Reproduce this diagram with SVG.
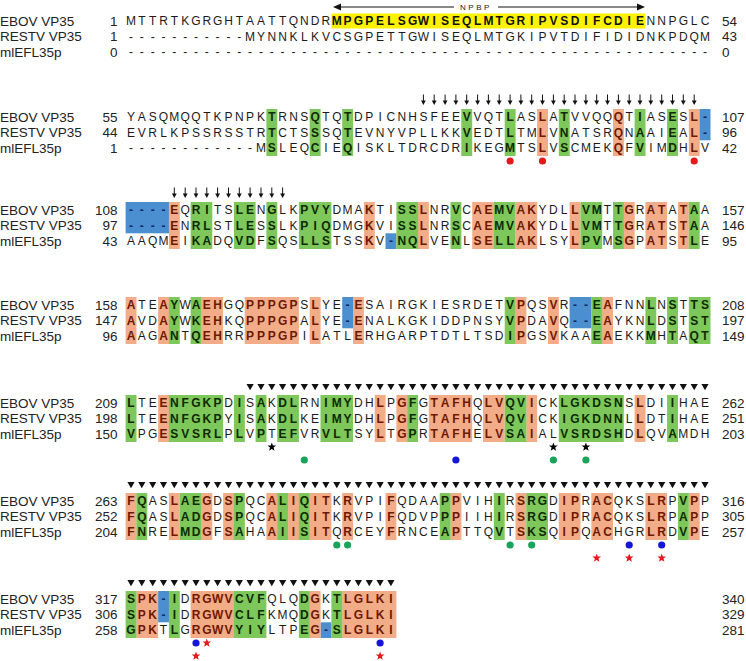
<svg xmlns="http://www.w3.org/2000/svg" width="746" height="661" viewBox="0 0 746 661">
<style>
.q{font-family:'Liberation Sans Narrow','Liberation Sans',Arial,sans-serif;font-size:12px;fill:#1a1a1a;text-anchor:middle}
.g{font-weight:bold;fill:#0e2a00}
.s{font-weight:bold;fill:#6e1800}
.b{font-weight:bold;fill:#0b2a66}
.y{font-weight:bold;fill:#111}
.lab{font-family:'Liberation Sans',Arial,sans-serif;font-size:13.5px;fill:#222}
.n{font-family:'Liberation Sans',Arial,sans-serif;font-size:13.5px;fill:#222;text-anchor:end}
.e{font-family:'Liberation Sans',Arial,sans-serif;font-size:13.5px;fill:#222}
.rs{fill:#F2AD88}.rg{fill:#7DC75B}.rb{fill:#4C8FD0}.ry{fill:#FFF200}
.red{fill:#E3191B}.grn{fill:#1BA35B}.blu{fill:#1515D9}.blk{fill:#000}
</style>
<defs>
<g id="da"><line x1="0" y1="-5.5" x2="0" y2="1.5" stroke="#111" stroke-width="1"/><polygon points="-2.4,0.5 2.4,0.5 0,5" fill="#111"/></g>
<polygon id="tri" points="-3.6,-3 3.6,-3 0,3.2" fill="#111"/>
<polygon id="star" points="0,-4.6 1.12,-1.54 4.38,-1.42 1.81,0.59 2.7,3.72 0,1.9 -2.7,3.72 -1.81,0.59 -4.38,-1.42 -1.12,-1.54"/>
<circle id="dot" r="3.6"/>
</defs>
<rect width="746" height="661" fill="#fff"/>

<g id="block1" transform="translate(0,-1)">
<rect class="ry" x="331.4" y="14.5" width="314.1" height="15"/>
<g id="npbp">
<line x1="339" y1="8" x2="639" y2="8" stroke="#111" stroke-width="1"/>
<polygon points="333,8 341,4.5 341,11.5" fill="#111"/>
<polygon points="645,8 637,4.5 637,11.5" fill="#111"/>
<rect x="454" y="3" width="44" height="10" fill="#fff"/>
<text x="476" y="11" font-family="'Liberation Sans',Arial,sans-serif" font-size="8" letter-spacing="2.5" text-anchor="middle" fill="#222">NPBP</text>
</g>
<text class="lab" x="0" y="26.8">EBOV VP35</text>
<text class="lab" x="0" y="42.3">RESTV VP35</text>
<text class="lab" x="0" y="57.8">mlEFL35p</text>
<text class="n" x="117.5" y="26.8">1</text>
<text class="n" x="117.5" y="42.3">1</text>
<text class="n" x="117.5" y="57.8">0</text>
<text class="e" x="722" y="26.8">54</text>
<text class="e" x="722" y="42.3">43</text>
<text class="e" x="722" y="57.8">0</text>
<text class="q" y="26.3" x="131 141.8 152.7 163.5 174.3 185.2 196 206.8 217.6 228.5 239.3 250.1 261 271.8 282.6 293.5 304.3 315.1 325.9 336.8 347.6 358.4 369.3 380.1 390.9 401.8 412.6 423.4 434.2 445.1 455.9 466.7 477.6 488.4 499.2 510.1 520.9 531.7 542.5 553.4 564.2 575 585.9 596.7 607.5 618.4 629.2 640 650.8 661.7 672.5 683.3 694.2 705">MTTRTKGRGHTAATTQNDR<tspan class="y">MPGPELSGWISEQLMTGRIPVSDIFCDIE</tspan>NNPGLC</text>
<text class="q" y="41.8" x="131 141.8 152.7 163.5 174.3 185.2 196 206.8 217.6 228.5 239.3 250.1 261 271.8 282.6 293.5 304.3 315.1 325.9 336.8 347.6 358.4 369.3 380.1 390.9 401.8 412.6 423.4 434.2 445.1 455.9 466.7 477.6 488.4 499.2 510.1 520.9 531.7 542.5 553.4 564.2 575 585.9 596.7 607.5 618.4 629.2 640 650.8 661.7 672.5 683.3 694.2 705">-----------MYNNKLKVCSGPETTGWISEQLMTGKIPVTDIFIDIDNKPDQM</text>
<text class="q" y="57.3" x="131 141.8 152.7 163.5 174.3 185.2 196 206.8 217.6 228.5 239.3 250.1 261 271.8 282.6 293.5 304.3 315.1 325.9 336.8 347.6 358.4 369.3 380.1 390.9 401.8 412.6 423.4 434.2 445.1 455.9 466.7 477.6 488.4 499.2 510.1 520.9 531.7 542.5 553.4 564.2 575 585.9 596.7 607.5 618.4 629.2 640 650.8 661.7 672.5 683.3 694.2 705">------------------------------------------------------</text>
</g>

<g id="block2" transform="translate(0,-1)">
<g>
<rect class="rg" x="266.4" y="110" width="10.9" height="47"/>
<rect class="rg" x="309.7" y="110" width="10.9" height="47"/>
<rect class="rg" x="342.2" y="110" width="10.9" height="47"/>
<rect class="rg" x="461.3" y="110" width="10.9" height="47"/>
<rect class="rg" x="504.7" y="110" width="10.9" height="47"/>
<rect class="rg" x="558.8" y="110" width="10.9" height="47"/>
<rect class="rg" x="634.6" y="110" width="10.9" height="47"/>
<rect class="rg" x="667.1" y="110" width="10.9" height="47"/>
<rect class="rs" x="537.1" y="110" width="10.9" height="47"/>
<rect class="rs" x="613" y="110" width="10.9" height="47"/>
<rect class="rs" x="688.8" y="110" width="10.9" height="47"/>
<rect class="rb" x="699.6" y="110" width="10.9" height="31.3"/>
</g>
<text class="lab" x="0" y="122.8">EBOV VP35</text>
<text class="lab" x="0" y="138.3">RESTV VP35</text>
<text class="lab" x="0" y="153.8">mlEFL35p</text>
<text class="n" x="117.5" y="122.8">55</text>
<text class="n" x="117.5" y="138.3">44</text>
<text class="n" x="117.5" y="153.8">1</text>
<text class="e" x="722" y="122.8">107</text>
<text class="e" x="722" y="138.3">96</text>
<text class="e" x="722" y="153.8">42</text>
<text class="q" y="122.3" x="131 141.8 152.7 163.5 174.3 185.2 196 206.8 217.6 228.5 239.3 250.1 261 271.8 282.6 293.5 304.3 315.1 325.9 336.8 347.6 358.4 369.3 380.1 390.9 401.8 412.6 423.4 434.2 445.1 455.9 466.7 477.6 488.4 499.2 510.1 520.9 531.7 542.5 553.4 564.2 575 585.9 596.7 607.5 618.4 629.2 640 650.8 661.7 672.5 683.3 694.2 705">YASQMQQTKPNPK<tspan class="g">T</tspan>RNS<tspan class="g">Q</tspan>TQ<tspan class="g">T</tspan>DPICNHSFEE<tspan class="g">V</tspan>VQT<tspan class="g">L</tspan>AS<tspan class="s">L</tspan>A<tspan class="g">T</tspan>VVQQ<tspan class="s">Q</tspan>T<tspan class="g">I</tspan>AS<tspan class="g">E</tspan>S<tspan class="s">L</tspan><tspan class="b">-</tspan></text>
<text class="q" y="137.8" x="131 141.8 152.7 163.5 174.3 185.2 196 206.8 217.6 228.5 239.3 250.1 261 271.8 282.6 293.5 304.3 315.1 325.9 336.8 347.6 358.4 369.3 380.1 390.9 401.8 412.6 423.4 434.2 445.1 455.9 466.7 477.6 488.4 499.2 510.1 520.9 531.7 542.5 553.4 564.2 575 585.9 596.7 607.5 618.4 629.2 640 650.8 661.7 672.5 683.3 694.2 705">EVRLKPSSRSSTR<tspan class="g">T</tspan>CTS<tspan class="g">S</tspan>SQ<tspan class="g">T</tspan>EVNYVPLLKK<tspan class="g">V</tspan>EDT<tspan class="g">L</tspan>TM<tspan class="s">L</tspan>V<tspan class="g">N</tspan>ATSR<tspan class="s">Q</tspan>N<tspan class="g">A</tspan>AI<tspan class="g">E</tspan>A<tspan class="s">L</tspan><tspan class="b">-</tspan></text>
<text class="q" y="153.3" x="131 141.8 152.7 163.5 174.3 185.2 196 206.8 217.6 228.5 239.3 250.1 261 271.8 282.6 293.5 304.3 315.1 325.9 336.8 347.6 358.4 369.3 380.1 390.9 401.8 412.6 423.4 434.2 445.1 455.9 466.7 477.6 488.4 499.2 510.1 520.9 531.7 542.5 553.4 564.2 575 585.9 596.7 607.5 618.4 629.2 640 650.8 661.7 672.5 683.3 694.2 705">------------M<tspan class="g">S</tspan>LEQ<tspan class="g">C</tspan>IE<tspan class="g">Q</tspan>ISKLTDRCDR<tspan class="g">I</tspan>KEG<tspan class="g">M</tspan>TS<tspan class="s">L</tspan>V<tspan class="g">S</tspan>CMEK<tspan class="s">Q</tspan>F<tspan class="g">V</tspan>IM<tspan class="g">D</tspan>H<tspan class="s">L</tspan>V</text>
<g id="arrows2">
<use href="#da" x="423.4" y="101"/><use href="#da" x="434.2" y="101"/><use href="#da" x="445.1" y="101"/><use href="#da" x="455.9" y="101"/><use href="#da" x="466.7" y="101"/><use href="#da" x="477.6" y="101"/><use href="#da" x="488.4" y="101"/><use href="#da" x="499.2" y="101"/><use href="#da" x="510.1" y="101"/><use href="#da" x="520.9" y="101"/><use href="#da" x="531.7" y="101"/><use href="#da" x="542.5" y="101"/><use href="#da" x="553.4" y="101"/><use href="#da" x="564.2" y="101"/><use href="#da" x="575" y="101"/><use href="#da" x="585.9" y="101"/><use href="#da" x="596.7" y="101"/><use href="#da" x="607.5" y="101"/><use href="#da" x="618.4" y="101"/><use href="#da" x="629.2" y="101"/><use href="#da" x="640" y="101"/><use href="#da" x="650.8" y="101"/><use href="#da" x="661.7" y="101"/><use href="#da" x="672.5" y="101"/><use href="#da" x="683.3" y="101"/><use href="#da" x="694.2" y="101"/>
</g>
<use href="#dot" class="red" x="510.1" y="162"/><use href="#dot" class="red" x="542.5" y="162"/><use href="#dot" class="red" x="694.2" y="162"/>
</g>

<g id="block3" transform="translate(0,-4)">
<g>
<rect class="rb" x="125.6" y="206" width="43.4" height="31.3"/>
<rect class="rb" x="385.5" y="237.3" width="10.9" height="15.7"/>
<rect class="rs" x="168.9" y="206" width="10.9" height="47"/>
<rect class="rs" x="363.9" y="206" width="10.9" height="47"/>
<rect class="rs" x="418" y="206" width="10.9" height="47"/>
<rect class="rs" x="472.2" y="206" width="21.7" height="47"/>
<rect class="rs" x="515.5" y="206" width="21.7" height="47"/>
<rect class="rs" x="569.6" y="206" width="10.9" height="47"/>
<rect class="rs" x="623.8" y="206" width="10.9" height="47"/>
<rect class="rs" x="645.4" y="206" width="21.7" height="47"/>
<rect class="rs" x="677.9" y="206" width="10.9" height="47"/>
<rect class="rg" x="190.6" y="206" width="21.7" height="47"/>
<rect class="rg" x="233.9" y="206" width="21.7" height="47"/>
<rect class="rg" x="266.4" y="206" width="10.9" height="47"/>
<rect class="rg" x="298.9" y="206" width="32.5" height="47"/>
<rect class="rg" x="396.4" y="206" width="21.7" height="47"/>
<rect class="rg" x="450.5" y="206" width="10.9" height="47"/>
<rect class="rg" x="493.8" y="206" width="21.7" height="47"/>
<rect class="rg" x="580.5" y="206" width="21.7" height="47"/>
<rect class="rg" x="613" y="206" width="10.9" height="47"/>
<rect class="rg" x="688.8" y="206" width="10.9" height="47"/>
</g>
<text class="lab" x="0" y="218.8">EBOV VP35</text>
<text class="lab" x="0" y="234.3">RESTV VP35</text>
<text class="lab" x="0" y="249.8">mlEFL35p</text>
<text class="n" x="117.5" y="218.8">108</text>
<text class="n" x="117.5" y="234.3">97</text>
<text class="n" x="117.5" y="249.8">43</text>
<text class="e" x="722" y="218.8">157</text>
<text class="e" x="722" y="234.3">146</text>
<text class="e" x="722" y="249.8">95</text>
<text class="q" y="218.3" x="131 141.8 152.7 163.5 174.3 185.2 196 206.8 217.6 228.5 239.3 250.1 261 271.8 282.6 293.5 304.3 315.1 325.9 336.8 347.6 358.4 369.3 380.1 390.9 401.8 412.6 423.4 434.2 445.1 455.9 466.7 477.6 488.4 499.2 510.1 520.9 531.7 542.5 553.4 564.2 575 585.9 596.7 607.5 618.4 629.2 640 650.8 661.7 672.5 683.3 694.2 705"><tspan class="b">----</tspan><tspan class="s">E</tspan>Q<tspan class="g">RI</tspan>TS<tspan class="g">LE</tspan>N<tspan class="g">G</tspan>LK<tspan class="g">PVY</tspan>DMA<tspan class="s">K</tspan>TI<tspan class="g">SS</tspan><tspan class="s">L</tspan>NR<tspan class="g">V</tspan>C<tspan class="s">AE</tspan><tspan class="g">MV</tspan><tspan class="s">AK</tspan>YDL<tspan class="s">L</tspan><tspan class="g">VM</tspan>T<tspan class="g">T</tspan><tspan class="s">G</tspan>R<tspan class="s">AT</tspan>A<tspan class="s">T</tspan><tspan class="g">A</tspan>A</text>
<text class="q" y="233.8" x="131 141.8 152.7 163.5 174.3 185.2 196 206.8 217.6 228.5 239.3 250.1 261 271.8 282.6 293.5 304.3 315.1 325.9 336.8 347.6 358.4 369.3 380.1 390.9 401.8 412.6 423.4 434.2 445.1 455.9 466.7 477.6 488.4 499.2 510.1 520.9 531.7 542.5 553.4 564.2 575 585.9 596.7 607.5 618.4 629.2 640 650.8 661.7 672.5 683.3 694.2 705"><tspan class="b">----</tspan><tspan class="s">E</tspan>N<tspan class="g">RL</tspan>ST<tspan class="g">LE</tspan>S<tspan class="g">S</tspan>LK<tspan class="g">PIQ</tspan>DMG<tspan class="s">K</tspan>VI<tspan class="g">SS</tspan><tspan class="s">L</tspan>NR<tspan class="g">S</tspan>C<tspan class="s">AE</tspan><tspan class="g">MV</tspan><tspan class="s">AK</tspan>YDL<tspan class="s">L</tspan><tspan class="g">VM</tspan>T<tspan class="g">T</tspan><tspan class="s">G</tspan>R<tspan class="s">AT</tspan>S<tspan class="s">T</tspan><tspan class="g">A</tspan>A</text>
<text class="q" y="249.3" x="131 141.8 152.7 163.5 174.3 185.2 196 206.8 217.6 228.5 239.3 250.1 261 271.8 282.6 293.5 304.3 315.1 325.9 336.8 347.6 358.4 369.3 380.1 390.9 401.8 412.6 423.4 434.2 445.1 455.9 466.7 477.6 488.4 499.2 510.1 520.9 531.7 542.5 553.4 564.2 575 585.9 596.7 607.5 618.4 629.2 640 650.8 661.7 672.5 683.3 694.2 705">AAQM<tspan class="s">E</tspan>I<tspan class="g">KA</tspan>DQ<tspan class="g">VD</tspan>F<tspan class="g">S</tspan>QS<tspan class="g">LLS</tspan>TSS<tspan class="s">K</tspan>V<tspan class="b">-</tspan><tspan class="g">NQ</tspan><tspan class="s">L</tspan>VE<tspan class="g">N</tspan>L<tspan class="s">SE</tspan><tspan class="g">LL</tspan><tspan class="s">AK</tspan>LSY<tspan class="s">L</tspan><tspan class="g">PV</tspan>M<tspan class="g">S</tspan><tspan class="s">G</tspan>P<tspan class="s">AT</tspan>S<tspan class="s">T</tspan><tspan class="g">L</tspan>E</text>
<g id="arrows3">
<use href="#da" x="174.3" y="197"/><use href="#da" x="185.2" y="197"/><use href="#da" x="196" y="197"/><use href="#da" x="206.8" y="197"/><use href="#da" x="217.6" y="197"/><use href="#da" x="228.5" y="197"/><use href="#da" x="239.3" y="197"/><use href="#da" x="250.1" y="197"/><use href="#da" x="261" y="197"/><use href="#da" x="271.8" y="197"/><use href="#da" x="282.6" y="197"/>
</g>
</g>

<g id="block4" transform="translate(0,-5)">
<g>
<rect class="rb" x="342.2" y="302" width="10.9" height="31.3"/>
<rect class="rb" x="569.6" y="302" width="21.7" height="31.3"/>
<rect class="rs" x="125.6" y="302" width="10.9" height="47"/>
<rect class="rs" x="158.1" y="302" width="10.9" height="47"/>
<rect class="rs" x="201.4" y="302" width="21.7" height="47"/>
<rect class="rs" x="244.7" y="302" width="54.2" height="47"/>
<rect class="rs" x="309.7" y="302" width="10.9" height="47"/>
<rect class="rs" x="353" y="302" width="10.9" height="47"/>
<rect class="rs" x="515.5" y="302" width="10.9" height="47"/>
<rect class="rs" x="548" y="302" width="10.9" height="47"/>
<rect class="rs" x="602.1" y="302" width="10.9" height="47"/>
<rect class="rg" x="168.9" y="302" width="10.9" height="47"/>
<rect class="rg" x="190.6" y="302" width="10.9" height="47"/>
<rect class="rg" x="504.7" y="302" width="10.9" height="47"/>
<rect class="rg" x="591.3" y="302" width="10.9" height="47"/>
<rect class="rg" x="645.4" y="302" width="10.9" height="47"/>
<rect class="rg" x="667.1" y="302" width="10.9" height="47"/>
<rect class="rg" x="688.8" y="302" width="21.7" height="47"/>
</g>
<text class="lab" x="0" y="314.8">EBOV VP35</text>
<text class="lab" x="0" y="330.3">RESTV VP35</text>
<text class="lab" x="0" y="345.8">mlEFL35p</text>
<text class="n" x="117.5" y="314.8">158</text>
<text class="n" x="117.5" y="330.3">147</text>
<text class="n" x="117.5" y="345.8">96</text>
<text class="e" x="722" y="314.8">208</text>
<text class="e" x="722" y="330.3">197</text>
<text class="e" x="722" y="345.8">149</text>
<text class="q" y="314.3" x="131 141.8 152.7 163.5 174.3 185.2 196 206.8 217.6 228.5 239.3 250.1 261 271.8 282.6 293.5 304.3 315.1 325.9 336.8 347.6 358.4 369.3 380.1 390.9 401.8 412.6 423.4 434.2 445.1 455.9 466.7 477.6 488.4 499.2 510.1 520.9 531.7 542.5 553.4 564.2 575 585.9 596.7 607.5 618.4 629.2 640 650.8 661.7 672.5 683.3 694.2 705"><tspan class="s">A</tspan>TE<tspan class="s">A</tspan><tspan class="g">Y</tspan>W<tspan class="g">A</tspan><tspan class="s">EH</tspan>GQ<tspan class="s">PPPGP</tspan>S<tspan class="s">L</tspan>YE<tspan class="b">-</tspan><tspan class="s">E</tspan>SAIRGKIESRDET<tspan class="g">V</tspan><tspan class="s">P</tspan>QS<tspan class="s">V</tspan>R<tspan class="b">--</tspan><tspan class="g">E</tspan><tspan class="s">A</tspan>FNN<tspan class="g">L</tspan>N<tspan class="g">S</tspan>T<tspan class="g">TS</tspan></text>
<text class="q" y="329.8" x="131 141.8 152.7 163.5 174.3 185.2 196 206.8 217.6 228.5 239.3 250.1 261 271.8 282.6 293.5 304.3 315.1 325.9 336.8 347.6 358.4 369.3 380.1 390.9 401.8 412.6 423.4 434.2 445.1 455.9 466.7 477.6 488.4 499.2 510.1 520.9 531.7 542.5 553.4 564.2 575 585.9 596.7 607.5 618.4 629.2 640 650.8 661.7 672.5 683.3 694.2 705"><tspan class="s">A</tspan>VD<tspan class="s">A</tspan><tspan class="g">Y</tspan>W<tspan class="g">K</tspan><tspan class="s">EH</tspan>KQ<tspan class="s">PPPGP</tspan>A<tspan class="s">L</tspan>YE<tspan class="b">-</tspan><tspan class="s">E</tspan>NALKGKIDDPNSY<tspan class="g">V</tspan><tspan class="s">P</tspan>DA<tspan class="s">V</tspan>Q<tspan class="b">--</tspan><tspan class="g">E</tspan><tspan class="s">A</tspan>YKN<tspan class="g">L</tspan>D<tspan class="g">S</tspan>T<tspan class="g">ST</tspan></text>
<text class="q" y="345.3" x="131 141.8 152.7 163.5 174.3 185.2 196 206.8 217.6 228.5 239.3 250.1 261 271.8 282.6 293.5 304.3 315.1 325.9 336.8 347.6 358.4 369.3 380.1 390.9 401.8 412.6 423.4 434.2 445.1 455.9 466.7 477.6 488.4 499.2 510.1 520.9 531.7 542.5 553.4 564.2 575 585.9 596.7 607.5 618.4 629.2 640 650.8 661.7 672.5 683.3 694.2 705"><tspan class="s">A</tspan>AG<tspan class="s">A</tspan><tspan class="g">N</tspan>T<tspan class="g">Q</tspan><tspan class="s">EH</tspan>RR<tspan class="s">PPPGP</tspan>I<tspan class="s">L</tspan>ATL<tspan class="s">E</tspan>RHGARPTDTLTSD<tspan class="g">I</tspan><tspan class="s">P</tspan>GS<tspan class="s">V</tspan>KAA<tspan class="g">E</tspan><tspan class="s">A</tspan>EKK<tspan class="g">M</tspan>H<tspan class="g">T</tspan>A<tspan class="g">QT</tspan></text>
</g>

<g id="block5" transform="translate(0,-3)">
<g>
<rect class="rs" x="158.1" y="398" width="10.9" height="47"/>
<rect class="rs" x="374.7" y="398" width="10.9" height="47"/>
<rect class="rs" x="396.4" y="398" width="10.9" height="47"/>
<rect class="rs" x="428.8" y="398" width="43.4" height="47"/>
<rect class="rs" x="483" y="398" width="21.7" height="47"/>
<rect class="rs" x="526.3" y="398" width="10.9" height="47"/>
<rect class="rs" x="634.6" y="398" width="10.9" height="47"/>
<rect class="rg" x="125.6" y="398" width="10.9" height="47"/>
<rect class="rg" x="168.9" y="398" width="54.2" height="47"/>
<rect class="rg" x="233.9" y="398" width="10.9" height="47"/>
<rect class="rg" x="255.6" y="398" width="10.9" height="47"/>
<rect class="rg" x="277.2" y="398" width="21.7" height="47"/>
<rect class="rg" x="320.5" y="398" width="32.5" height="47"/>
<rect class="rg" x="407.2" y="398" width="10.9" height="47"/>
<rect class="rg" x="504.7" y="398" width="21.7" height="47"/>
<rect class="rg" x="558.8" y="398" width="65" height="47"/>
<rect class="rg" x="667.1" y="398" width="10.9" height="47"/>
</g>
<text class="lab" x="0" y="410.8">EBOV VP35</text>
<text class="lab" x="0" y="426.3">RESTV VP35</text>
<text class="lab" x="0" y="441.8">mlEFL35p</text>
<text class="n" x="117.5" y="410.8">209</text>
<text class="n" x="117.5" y="426.3">198</text>
<text class="n" x="117.5" y="441.8">150</text>
<text class="e" x="722" y="410.8">262</text>
<text class="e" x="722" y="426.3">251</text>
<text class="e" x="722" y="441.8">203</text>
<text class="q" y="410.3" x="131 141.8 152.7 163.5 174.3 185.2 196 206.8 217.6 228.5 239.3 250.1 261 271.8 282.6 293.5 304.3 315.1 325.9 336.8 347.6 358.4 369.3 380.1 390.9 401.8 412.6 423.4 434.2 445.1 455.9 466.7 477.6 488.4 499.2 510.1 520.9 531.7 542.5 553.4 564.2 575 585.9 596.7 607.5 618.4 629.2 640 650.8 661.7 672.5 683.3 694.2 705"><tspan class="g">L</tspan>TE<tspan class="s">E</tspan><tspan class="g">NFGKP</tspan>D<tspan class="g">I</tspan>S<tspan class="g">A</tspan>K<tspan class="g">DL</tspan>RN<tspan class="g">IMY</tspan>DH<tspan class="s">L</tspan>P<tspan class="s">G</tspan><tspan class="g">F</tspan>G<tspan class="s">TAFH</tspan>Q<tspan class="s">LV</tspan><tspan class="g">QV</tspan><tspan class="s">I</tspan>CK<tspan class="g">LGKDSN</tspan>S<tspan class="s">L</tspan>DI<tspan class="g">I</tspan>HAE</text>
<text class="q" y="425.8" x="131 141.8 152.7 163.5 174.3 185.2 196 206.8 217.6 228.5 239.3 250.1 261 271.8 282.6 293.5 304.3 315.1 325.9 336.8 347.6 358.4 369.3 380.1 390.9 401.8 412.6 423.4 434.2 445.1 455.9 466.7 477.6 488.4 499.2 510.1 520.9 531.7 542.5 553.4 564.2 575 585.9 596.7 607.5 618.4 629.2 640 650.8 661.7 672.5 683.3 694.2 705"><tspan class="g">L</tspan>TE<tspan class="s">E</tspan><tspan class="g">NFGKP</tspan>Y<tspan class="g">I</tspan>S<tspan class="g">A</tspan>K<tspan class="g">DL</tspan>KE<tspan class="g">IMY</tspan>DH<tspan class="s">L</tspan>P<tspan class="s">G</tspan><tspan class="g">F</tspan>G<tspan class="s">TAFH</tspan>Q<tspan class="s">LV</tspan><tspan class="g">QV</tspan><tspan class="s">I</tspan>CK<tspan class="g">IGKDNN</tspan>L<tspan class="s">L</tspan>DT<tspan class="g">I</tspan>HAE</text>
<text class="q" y="441.3" x="131 141.8 152.7 163.5 174.3 185.2 196 206.8 217.6 228.5 239.3 250.1 261 271.8 282.6 293.5 304.3 315.1 325.9 336.8 347.6 358.4 369.3 380.1 390.9 401.8 412.6 423.4 434.2 445.1 455.9 466.7 477.6 488.4 499.2 510.1 520.9 531.7 542.5 553.4 564.2 575 585.9 596.7 607.5 618.4 629.2 640 650.8 661.7 672.5 683.3 694.2 705"><tspan class="g">V</tspan>PG<tspan class="s">E</tspan><tspan class="g">SVSRL</tspan>P<tspan class="g">L</tspan>V<tspan class="g">P</tspan>T<tspan class="g">EF</tspan>VR<tspan class="g">VLT</tspan>SY<tspan class="s">L</tspan>T<tspan class="s">G</tspan><tspan class="g">P</tspan>R<tspan class="s">TAFH</tspan>E<tspan class="s">LV</tspan><tspan class="g">SA</tspan><tspan class="s">I</tspan>AL<tspan class="g">VSRDSH</tspan>D<tspan class="s">L</tspan>QV<tspan class="g">A</tspan>MDH</text>
<g id="tri5">
<use href="#tri" x="250.1" y="390"/><use href="#tri" x="261" y="390"/><use href="#tri" x="271.8" y="390"/><use href="#tri" x="282.6" y="390"/><use href="#tri" x="293.5" y="390"/><use href="#tri" x="304.3" y="390"/><use href="#tri" x="315.1" y="390"/><use href="#tri" x="325.9" y="390"/><use href="#tri" x="336.8" y="390"/><use href="#tri" x="347.6" y="390"/><use href="#tri" x="358.4" y="390"/><use href="#tri" x="369.3" y="390"/><use href="#tri" x="380.1" y="390"/><use href="#tri" x="390.9" y="390"/><use href="#tri" x="401.8" y="390"/><use href="#tri" x="412.6" y="390"/><use href="#tri" x="423.4" y="390"/><use href="#tri" x="434.2" y="390"/><use href="#tri" x="445.1" y="390"/><use href="#tri" x="455.9" y="390"/><use href="#tri" x="466.7" y="390"/><use href="#tri" x="477.6" y="390"/><use href="#tri" x="488.4" y="390"/><use href="#tri" x="499.2" y="390"/><use href="#tri" x="510.1" y="390"/><use href="#tri" x="520.9" y="390"/><use href="#tri" x="531.7" y="390"/><use href="#tri" x="542.5" y="390"/><use href="#tri" x="553.4" y="390"/><use href="#tri" x="564.2" y="390"/><use href="#tri" x="575" y="390"/><use href="#tri" x="585.9" y="390"/><use href="#tri" x="596.7" y="390"/><use href="#tri" x="607.5" y="390"/><use href="#tri" x="618.4" y="390"/><use href="#tri" x="629.2" y="390"/><use href="#tri" x="640" y="390"/><use href="#tri" x="650.8" y="390"/><use href="#tri" x="661.7" y="390"/><use href="#tri" x="672.5" y="390"/><use href="#tri" x="683.3" y="390"/><use href="#tri" x="694.2" y="390"/><use href="#tri" x="705" y="390"/>
</g>
<use href="#star" class="blk" x="271.8" y="450"/><use href="#star" class="blk" x="553.4" y="450"/><use href="#star" class="blk" x="585.9" y="450"/>
<use href="#dot" class="grn" x="304.3" y="463"/><use href="#dot" class="blu" x="455.9" y="463"/><use href="#dot" class="grn" x="553.4" y="463"/><use href="#dot" class="grn" x="585.9" y="463"/>
</g>

<g id="block6" transform="translate(0,-1)">
<g>
<rect class="rs" x="125.6" y="494" width="10.9" height="47"/>
<rect class="rs" x="168.9" y="494" width="10.9" height="47"/>
<rect class="rs" x="201.4" y="494" width="10.9" height="47"/>
<rect class="rs" x="223.1" y="494" width="10.9" height="47"/>
<rect class="rs" x="266.4" y="494" width="10.9" height="47"/>
<rect class="rs" x="288.1" y="494" width="10.9" height="47"/>
<rect class="rs" x="309.7" y="494" width="21.7" height="47"/>
<rect class="rs" x="342.2" y="494" width="10.9" height="47"/>
<rect class="rs" x="385.5" y="494" width="10.9" height="47"/>
<rect class="rs" x="450.5" y="494" width="10.9" height="47"/>
<rect class="rs" x="515.5" y="494" width="10.9" height="47"/>
<rect class="rs" x="558.8" y="494" width="21.7" height="47"/>
<rect class="rs" x="591.3" y="494" width="21.7" height="47"/>
<rect class="rs" x="645.4" y="494" width="21.7" height="47"/>
<rect class="rs" x="688.8" y="494" width="10.9" height="47"/>
<rect class="rg" x="136.4" y="494" width="10.9" height="47"/>
<rect class="rg" x="179.8" y="494" width="21.7" height="47"/>
<rect class="rg" x="233.9" y="494" width="10.9" height="47"/>
<rect class="rg" x="277.2" y="494" width="10.9" height="47"/>
<rect class="rg" x="298.9" y="494" width="10.9" height="47"/>
<rect class="rg" x="439.7" y="494" width="10.9" height="47"/>
<rect class="rg" x="493.8" y="494" width="10.9" height="47"/>
<rect class="rg" x="526.3" y="494" width="21.7" height="47"/>
<rect class="rg" x="677.9" y="494" width="10.9" height="47"/>
</g>
<text class="lab" x="0" y="506.8">EBOV VP35</text>
<text class="lab" x="0" y="522.3">RESTV VP35</text>
<text class="lab" x="0" y="537.8">mlEFL35p</text>
<text class="n" x="117.5" y="506.8">263</text>
<text class="n" x="117.5" y="522.3">252</text>
<text class="n" x="117.5" y="537.8">204</text>
<text class="e" x="722" y="506.8">316</text>
<text class="e" x="722" y="522.3">305</text>
<text class="e" x="722" y="537.8">257</text>
<text class="q" y="506.3" x="131 141.8 152.7 163.5 174.3 185.2 196 206.8 217.6 228.5 239.3 250.1 261 271.8 282.6 293.5 304.3 315.1 325.9 336.8 347.6 358.4 369.3 380.1 390.9 401.8 412.6 423.4 434.2 445.1 455.9 466.7 477.6 488.4 499.2 510.1 520.9 531.7 542.5 553.4 564.2 575 585.9 596.7 607.5 618.4 629.2 640 650.8 661.7 672.5 683.3 694.2 705"><tspan class="s">F</tspan><tspan class="g">Q</tspan>AS<tspan class="s">L</tspan><tspan class="g">AE</tspan><tspan class="s">G</tspan>D<tspan class="s">S</tspan><tspan class="g">P</tspan>QC<tspan class="s">A</tspan><tspan class="g">L</tspan><tspan class="s">I</tspan><tspan class="g">Q</tspan><tspan class="s">IT</tspan>K<tspan class="s">R</tspan>VPI<tspan class="s">F</tspan>QDAA<tspan class="g">P</tspan><tspan class="s">P</tspan>VIH<tspan class="g">I</tspan>R<tspan class="s">S</tspan><tspan class="g">RG</tspan>D<tspan class="s">IP</tspan>R<tspan class="s">AC</tspan>QKS<tspan class="s">LR</tspan>P<tspan class="g">V</tspan><tspan class="s">P</tspan>P</text>
<text class="q" y="521.8" x="131 141.8 152.7 163.5 174.3 185.2 196 206.8 217.6 228.5 239.3 250.1 261 271.8 282.6 293.5 304.3 315.1 325.9 336.8 347.6 358.4 369.3 380.1 390.9 401.8 412.6 423.4 434.2 445.1 455.9 466.7 477.6 488.4 499.2 510.1 520.9 531.7 542.5 553.4 564.2 575 585.9 596.7 607.5 618.4 629.2 640 650.8 661.7 672.5 683.3 694.2 705"><tspan class="s">F</tspan><tspan class="g">Q</tspan>AS<tspan class="s">L</tspan><tspan class="g">AD</tspan><tspan class="s">G</tspan>D<tspan class="s">S</tspan><tspan class="g">P</tspan>QC<tspan class="s">A</tspan><tspan class="g">L</tspan><tspan class="s">I</tspan><tspan class="g">Q</tspan><tspan class="s">IT</tspan>K<tspan class="s">R</tspan>VPI<tspan class="s">F</tspan>QDVP<tspan class="g">P</tspan><tspan class="s">P</tspan>IIH<tspan class="g">I</tspan>R<tspan class="s">S</tspan><tspan class="g">RG</tspan>D<tspan class="s">IP</tspan>R<tspan class="s">AC</tspan>QKS<tspan class="s">LR</tspan>P<tspan class="g">A</tspan><tspan class="s">P</tspan>P</text>
<text class="q" y="537.3" x="131 141.8 152.7 163.5 174.3 185.2 196 206.8 217.6 228.5 239.3 250.1 261 271.8 282.6 293.5 304.3 315.1 325.9 336.8 347.6 358.4 369.3 380.1 390.9 401.8 412.6 423.4 434.2 445.1 455.9 466.7 477.6 488.4 499.2 510.1 520.9 531.7 542.5 553.4 564.2 575 585.9 596.7 607.5 618.4 629.2 640 650.8 661.7 672.5 683.3 694.2 705"><tspan class="s">F</tspan><tspan class="g">N</tspan>RE<tspan class="s">L</tspan><tspan class="g">MD</tspan><tspan class="s">G</tspan>F<tspan class="s">S</tspan><tspan class="g">A</tspan>HA<tspan class="s">A</tspan><tspan class="g">I</tspan><tspan class="s">I</tspan><tspan class="g">S</tspan><tspan class="s">IT</tspan>Q<tspan class="s">R</tspan>CEY<tspan class="s">F</tspan>RNCE<tspan class="g">A</tspan><tspan class="s">P</tspan>TTQ<tspan class="g">V</tspan>T<tspan class="s">S</tspan><tspan class="g">KS</tspan>Q<tspan class="s">IP</tspan>Q<tspan class="s">AC</tspan>HGR<tspan class="s">LR</tspan>D<tspan class="g">V</tspan><tspan class="s">P</tspan>E</text>
<g id="tri6">
<use href="#tri" x="131" y="486"/><use href="#tri" x="141.8" y="486"/><use href="#tri" x="152.7" y="486"/><use href="#tri" x="163.5" y="486"/><use href="#tri" x="174.3" y="486"/><use href="#tri" x="185.2" y="486"/><use href="#tri" x="196" y="486"/><use href="#tri" x="206.8" y="486"/><use href="#tri" x="217.6" y="486"/><use href="#tri" x="228.5" y="486"/><use href="#tri" x="239.3" y="486"/><use href="#tri" x="250.1" y="486"/><use href="#tri" x="261" y="486"/><use href="#tri" x="271.8" y="486"/><use href="#tri" x="282.6" y="486"/><use href="#tri" x="293.5" y="486"/><use href="#tri" x="304.3" y="486"/><use href="#tri" x="315.1" y="486"/><use href="#tri" x="325.9" y="486"/><use href="#tri" x="336.8" y="486"/><use href="#tri" x="347.6" y="486"/><use href="#tri" x="358.4" y="486"/><use href="#tri" x="369.3" y="486"/><use href="#tri" x="380.1" y="486"/><use href="#tri" x="390.9" y="486"/><use href="#tri" x="401.8" y="486"/><use href="#tri" x="412.6" y="486"/><use href="#tri" x="423.4" y="486"/><use href="#tri" x="434.2" y="486"/><use href="#tri" x="445.1" y="486"/><use href="#tri" x="455.9" y="486"/><use href="#tri" x="466.7" y="486"/><use href="#tri" x="477.6" y="486"/><use href="#tri" x="488.4" y="486"/><use href="#tri" x="499.2" y="486"/><use href="#tri" x="510.1" y="486"/><use href="#tri" x="520.9" y="486"/><use href="#tri" x="531.7" y="486"/><use href="#tri" x="542.5" y="486"/><use href="#tri" x="553.4" y="486"/><use href="#tri" x="564.2" y="486"/><use href="#tri" x="575" y="486"/><use href="#tri" x="585.9" y="486"/><use href="#tri" x="596.7" y="486"/><use href="#tri" x="607.5" y="486"/><use href="#tri" x="618.4" y="486"/><use href="#tri" x="629.2" y="486"/><use href="#tri" x="640" y="486"/><use href="#tri" x="650.8" y="486"/><use href="#tri" x="661.7" y="486"/><use href="#tri" x="672.5" y="486"/><use href="#tri" x="683.3" y="486"/><use href="#tri" x="694.2" y="486"/><use href="#tri" x="705" y="486"/>
</g>
<use href="#dot" class="grn" x="336.8" y="546"/><use href="#dot" class="grn" x="347.6" y="546"/><use href="#dot" class="grn" x="510.1" y="546"/><use href="#dot" class="grn" x="531.7" y="546"/><use href="#dot" class="blu" x="629.2" y="546"/><use href="#dot" class="blu" x="661.7" y="546"/>
<use href="#star" class="red" x="596.7" y="559"/><use href="#star" class="red" x="629.2" y="559"/><use href="#star" class="red" x="661.7" y="559"/>
</g>

<g id="block7" transform="translate(0,1)">
<g>
<rect class="rb" x="158.1" y="590" width="10.9" height="31.3"/>
<rect class="rb" x="320.5" y="621.3" width="10.9" height="15.7"/>
<rect class="rs" x="136.4" y="590" width="21.7" height="47"/>
<rect class="rs" x="190.6" y="590" width="43.4" height="47"/>
<rect class="rs" x="309.7" y="590" width="10.9" height="47"/>
<rect class="rs" x="342.2" y="590" width="54.2" height="47"/>
<rect class="rg" x="125.6" y="590" width="10.9" height="47"/>
<rect class="rg" x="168.9" y="590" width="10.9" height="47"/>
<rect class="rg" x="233.9" y="590" width="32.5" height="47"/>
<rect class="rg" x="298.9" y="590" width="10.9" height="47"/>
<rect class="rg" x="331.4" y="590" width="10.9" height="47"/>
</g>
<text class="lab" x="0" y="602.8">EBOV VP35</text>
<text class="lab" x="0" y="618.3">RESTV VP35</text>
<text class="lab" x="0" y="633.8">mlEFL35p</text>
<text class="n" x="117.5" y="602.8">317</text>
<text class="n" x="117.5" y="618.3">306</text>
<text class="n" x="117.5" y="633.8">258</text>
<text class="e" x="722" y="602.8">340</text>
<text class="e" x="722" y="618.3">329</text>
<text class="e" x="722" y="633.8">281</text>
<text class="q" y="602.3" x="131 141.8 152.7 163.5 174.3 185.2 196 206.8 217.6 228.5 239.3 250.1 261 271.8 282.6 293.5 304.3 315.1 325.9 336.8 347.6 358.4 369.3 380.1 390.9"><tspan class="g">S</tspan><tspan class="s">PK</tspan><tspan class="b">-</tspan><tspan class="g">I</tspan>D<tspan class="s">RGWV</tspan><tspan class="g">CVF</tspan>QLQ<tspan class="g">D</tspan><tspan class="s">G</tspan>K<tspan class="g">T</tspan><tspan class="s">LGLKI</tspan></text>
<text class="q" y="617.8" x="131 141.8 152.7 163.5 174.3 185.2 196 206.8 217.6 228.5 239.3 250.1 261 271.8 282.6 293.5 304.3 315.1 325.9 336.8 347.6 358.4 369.3 380.1 390.9"><tspan class="g">S</tspan><tspan class="s">PK</tspan><tspan class="b">-</tspan><tspan class="g">I</tspan>D<tspan class="s">RGWV</tspan><tspan class="g">CLF</tspan>KMQ<tspan class="g">D</tspan><tspan class="s">G</tspan>K<tspan class="g">T</tspan><tspan class="s">LGLKI</tspan></text>
<text class="q" y="633.3" x="131 141.8 152.7 163.5 174.3 185.2 196 206.8 217.6 228.5 239.3 250.1 261 271.8 282.6 293.5 304.3 315.1 325.9 336.8 347.6 358.4 369.3 380.1 390.9"><tspan class="g">G</tspan><tspan class="s">PK</tspan>T<tspan class="g">L</tspan>G<tspan class="s">RGWV</tspan><tspan class="g">YIY</tspan>LTP<tspan class="g">E</tspan><tspan class="s">G</tspan><tspan class="b">-</tspan><tspan class="g">S</tspan><tspan class="s">LGLKI</tspan></text>
<g id="tri7">
<use href="#tri" x="131" y="582"/><use href="#tri" x="141.8" y="582"/><use href="#tri" x="152.7" y="582"/><use href="#tri" x="163.5" y="582"/><use href="#tri" x="174.3" y="582"/><use href="#tri" x="185.2" y="582"/><use href="#tri" x="196" y="582"/><use href="#tri" x="206.8" y="582"/><use href="#tri" x="217.6" y="582"/><use href="#tri" x="228.5" y="582"/><use href="#tri" x="239.3" y="582"/><use href="#tri" x="250.1" y="582"/><use href="#tri" x="261" y="582"/><use href="#tri" x="271.8" y="582"/><use href="#tri" x="282.6" y="582"/><use href="#tri" x="293.5" y="582"/><use href="#tri" x="304.3" y="582"/><use href="#tri" x="315.1" y="582"/><use href="#tri" x="325.9" y="582"/><use href="#tri" x="336.8" y="582"/><use href="#tri" x="347.6" y="582"/><use href="#tri" x="358.4" y="582"/><use href="#tri" x="369.3" y="582"/><use href="#tri" x="380.1" y="582"/><use href="#tri" x="390.9" y="582"/>
</g>
<use href="#star" class="red" x="206.8" y="642"/>
<use href="#dot" class="blu" x="196" y="642"/><use href="#dot" class="blu" x="380.1" y="642"/>
<use href="#star" class="red" x="196" y="655"/><use href="#star" class="red" x="380.1" y="655"/>
</g>
</svg>
